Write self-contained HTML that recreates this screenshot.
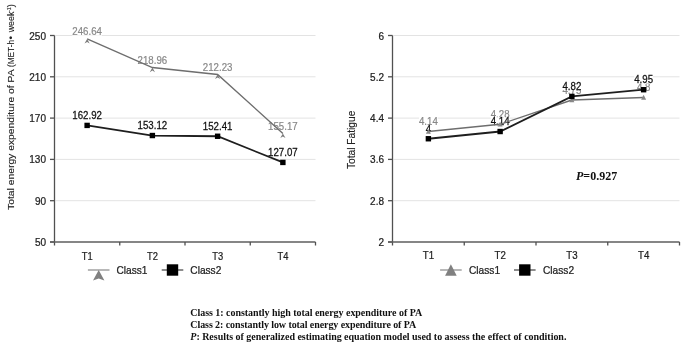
<!DOCTYPE html>
<html><head><meta charset="utf-8"><style>
html,body{margin:0;padding:0;background:#fff;}
svg{display:block}
text{font-family:"Liberation Sans",sans-serif;}
.tk{font-size:11px;fill:#222;stroke:#222;stroke-width:0.25px;}
.lb{font-size:10.2px;fill:#111;stroke:#111;stroke-width:0.25px;}
.lg{font-size:10.2px;fill:#888;stroke:#888;stroke-width:0.2px;}
.yt{font-size:10px;fill:#222;stroke:#222;stroke-width:0.12px;}
.lt{font-size:11px;fill:#222;stroke:#222;stroke-width:0.25px;}
.pv{font-family:"Liberation Serif",serif;font-weight:bold;font-size:12px;fill:#111;}
.cp{font-family:"Liberation Serif",serif;font-weight:bold;font-size:10px;fill:#111;}
</style></head><body>
<svg width="685" height="350" viewBox="0 0 685 350" style="filter:grayscale(1)">
<rect width="685" height="350" fill="#fff"/>
<line x1="55.5" y1="200.7" x2="315.5" y2="200.7" stroke="#e3e3e3" stroke-width="1"/>
<line x1="55.5" y1="159.4" x2="315.5" y2="159.4" stroke="#e3e3e3" stroke-width="1"/>
<line x1="55.5" y1="118.1" x2="315.5" y2="118.1" stroke="#e3e3e3" stroke-width="1"/>
<line x1="55.5" y1="76.80000000000001" x2="315.5" y2="76.80000000000001" stroke="#e3e3e3" stroke-width="1"/>
<line x1="55.5" y1="35.5" x2="315.5" y2="35.5" stroke="#e3e3e3" stroke-width="1"/>
<line x1="54.5" y1="35.5" x2="54.5" y2="245.5" stroke="#505050" stroke-width="1.3"/>
<line x1="50.0" y1="242.0" x2="54.5" y2="242.0" stroke="#505050" stroke-width="1.3"/>
<line x1="50.0" y1="200.7" x2="54.5" y2="200.7" stroke="#505050" stroke-width="1.3"/>
<line x1="50.0" y1="159.4" x2="54.5" y2="159.4" stroke="#505050" stroke-width="1.3"/>
<line x1="50.0" y1="118.1" x2="54.5" y2="118.1" stroke="#505050" stroke-width="1.3"/>
<line x1="50.0" y1="76.80000000000001" x2="54.5" y2="76.80000000000001" stroke="#505050" stroke-width="1.3"/>
<line x1="50.0" y1="35.5" x2="54.5" y2="35.5" stroke="#505050" stroke-width="1.3"/>
<line x1="50.0" y1="242" x2="315.5" y2="242" stroke="#5e5e5e" stroke-width="1.5"/>
<line x1="119.75" y1="242" x2="119.75" y2="245.5" stroke="#505050" stroke-width="1.3"/>
<line x1="185.0" y1="242" x2="185.0" y2="245.5" stroke="#505050" stroke-width="1.3"/>
<line x1="250.25" y1="242" x2="250.25" y2="245.5" stroke="#505050" stroke-width="1.3"/>
<line x1="315.5" y1="242" x2="315.5" y2="245.5" stroke="#505050" stroke-width="1.3"/>
<text transform="translate(46.00,246.00) scale(0.91,1)" text-anchor="end" class="tk">50</text>
<text transform="translate(46.00,204.70) scale(0.91,1)" text-anchor="end" class="tk">90</text>
<text transform="translate(46.00,163.40) scale(0.91,1)" text-anchor="end" class="tk">130</text>
<text transform="translate(46.00,122.10) scale(0.91,1)" text-anchor="end" class="tk">170</text>
<text transform="translate(46.00,80.80) scale(0.91,1)" text-anchor="end" class="tk">210</text>
<text transform="translate(46.00,39.50) scale(0.91,1)" text-anchor="end" class="tk">250</text>
<text transform="translate(87.12,259.60) scale(0.85,1)" text-anchor="middle" class="tk">T1</text>
<text transform="translate(152.38,259.60) scale(0.85,1)" text-anchor="middle" class="tk">T2</text>
<text transform="translate(217.62,259.60) scale(0.85,1)" text-anchor="middle" class="tk">T3</text>
<text transform="translate(282.88,259.60) scale(0.85,1)" text-anchor="middle" class="tk">T4</text>
<line x1="393.5" y1="200.70000000000002" x2="679.5" y2="200.70000000000002" stroke="#e3e3e3" stroke-width="1"/>
<line x1="393.5" y1="159.39999999999998" x2="679.5" y2="159.39999999999998" stroke="#e3e3e3" stroke-width="1"/>
<line x1="393.5" y1="118.09999999999998" x2="679.5" y2="118.09999999999998" stroke="#e3e3e3" stroke-width="1"/>
<line x1="393.5" y1="76.79999999999998" x2="679.5" y2="76.79999999999998" stroke="#e3e3e3" stroke-width="1"/>
<line x1="393.5" y1="35.5" x2="679.5" y2="35.5" stroke="#e3e3e3" stroke-width="1"/>
<line x1="392.5" y1="35.5" x2="392.5" y2="245.5" stroke="#505050" stroke-width="1.3"/>
<line x1="388.0" y1="242.0" x2="392.5" y2="242.0" stroke="#505050" stroke-width="1.3"/>
<line x1="388.0" y1="200.70000000000002" x2="392.5" y2="200.70000000000002" stroke="#505050" stroke-width="1.3"/>
<line x1="388.0" y1="159.39999999999998" x2="392.5" y2="159.39999999999998" stroke="#505050" stroke-width="1.3"/>
<line x1="388.0" y1="118.09999999999998" x2="392.5" y2="118.09999999999998" stroke="#505050" stroke-width="1.3"/>
<line x1="388.0" y1="76.79999999999998" x2="392.5" y2="76.79999999999998" stroke="#505050" stroke-width="1.3"/>
<line x1="388.0" y1="35.5" x2="392.5" y2="35.5" stroke="#505050" stroke-width="1.3"/>
<line x1="388.0" y1="242" x2="679.5" y2="242" stroke="#5e5e5e" stroke-width="1.5"/>
<line x1="464.25" y1="242" x2="464.25" y2="245.5" stroke="#505050" stroke-width="1.3"/>
<line x1="536.0" y1="242" x2="536.0" y2="245.5" stroke="#505050" stroke-width="1.3"/>
<line x1="607.75" y1="242" x2="607.75" y2="245.5" stroke="#505050" stroke-width="1.3"/>
<line x1="679.5" y1="242" x2="679.5" y2="245.5" stroke="#505050" stroke-width="1.3"/>
<text transform="translate(384.00,246.00) scale(0.91,1)" text-anchor="end" class="tk">2</text>
<text transform="translate(384.00,204.70) scale(0.91,1)" text-anchor="end" class="tk">2.8</text>
<text transform="translate(384.00,163.40) scale(0.91,1)" text-anchor="end" class="tk">3.6</text>
<text transform="translate(384.00,122.10) scale(0.91,1)" text-anchor="end" class="tk">4.4</text>
<text transform="translate(384.00,80.80) scale(0.91,1)" text-anchor="end" class="tk">5.2</text>
<text transform="translate(384.00,39.50) scale(0.91,1)" text-anchor="end" class="tk">6</text>
<text transform="translate(428.38,258.60) scale(0.88,1)" text-anchor="middle" class="tk">T1</text>
<text transform="translate(500.12,258.60) scale(0.88,1)" text-anchor="middle" class="tk">T2</text>
<text transform="translate(571.88,258.60) scale(0.88,1)" text-anchor="middle" class="tk">T3</text>
<text transform="translate(643.62,258.60) scale(0.88,1)" text-anchor="middle" class="tk">T4</text>
<rect x="72.31" y="27.57" width="29.63" height="8.1" fill="#fff"/>
<text transform="translate(87.12,35.47) scale(0.95,1)" text-anchor="middle" class="lg">246.64</text>
<rect x="137.56" y="56.15" width="29.63" height="8.1" fill="#fff"/>
<text transform="translate(152.38,64.05) scale(0.95,1)" text-anchor="middle" class="lg">218.96</text>
<rect x="202.81" y="63.10" width="29.63" height="8.1" fill="#fff"/>
<text transform="translate(217.62,71.00) scale(0.95,1)" text-anchor="middle" class="lg">212.23</text>
<rect x="268.06" y="122.01" width="29.63" height="8.1" fill="#fff"/>
<text transform="translate(282.88,129.91) scale(0.95,1)" text-anchor="middle" class="lg">155.17</text>
<rect x="72.31" y="110.81" width="29.63" height="8.1" fill="#fff"/>
<text transform="translate(87.12,118.71) scale(0.95,1)" text-anchor="middle" class="lb">162.92</text>
<rect x="137.56" y="120.93" width="29.63" height="8.1" fill="#fff"/>
<text transform="translate(152.38,128.83) scale(0.95,1)" text-anchor="middle" class="lb">153.12</text>
<rect x="202.81" y="121.66" width="29.63" height="8.1" fill="#fff"/>
<text transform="translate(217.62,129.56) scale(0.95,1)" text-anchor="middle" class="lb">152.41</text>
<rect x="268.06" y="147.83" width="29.63" height="8.1" fill="#fff"/>
<text transform="translate(282.88,155.73) scale(0.95,1)" text-anchor="middle" class="lb">127.07</text>
<rect x="418.95" y="117.12" width="18.86" height="8.1" fill="#fff"/>
<text transform="translate(428.38,125.02) scale(0.95,1)" text-anchor="middle" class="lg">4.14</text>
<rect x="490.70" y="109.89" width="18.86" height="8.1" fill="#fff"/>
<text transform="translate(500.12,117.79) scale(0.95,1)" text-anchor="middle" class="lg">4.28</text>
<rect x="562.45" y="85.63" width="18.86" height="8.1" fill="#fff"/>
<text transform="translate(571.88,93.53) scale(0.95,1)" text-anchor="middle" class="lg">4.75</text>
<rect x="636.89" y="83.05" width="13.47" height="8.1" fill="#fff"/>
<text transform="translate(643.62,90.95) scale(0.95,1)" text-anchor="middle" class="lg">4.8</text>
<rect x="425.68" y="125.05" width="5.39" height="8.1" fill="#fff"/>
<text transform="translate(428.38,132.95) scale(0.95,1)" text-anchor="middle" class="lb">4</text>
<rect x="490.70" y="117.22" width="18.86" height="8.1" fill="#fff"/>
<text transform="translate(500.12,125.12) scale(0.95,1)" text-anchor="middle" class="lb">4.14</text>
<rect x="562.45" y="82.12" width="18.86" height="8.1" fill="#fff"/>
<text transform="translate(571.88,90.02) scale(0.95,1)" text-anchor="middle" class="lb">4.82</text>
<rect x="634.20" y="75.41" width="18.86" height="8.1" fill="#fff"/>
<text transform="translate(643.62,83.31) scale(0.95,1)" text-anchor="middle" class="lb">4.95</text>
<path d="M87.12,38.97 L152.38,67.55 L217.62,74.50 L282.88,133.41" fill="none" stroke="#6e6e6e" stroke-width="1.4"/>
<path d="M87.12,38.97 l2.6,4.6 l-2.6,-1.6 l-2.6,1.6 z" fill="#7a7a7a"/>
<path d="M152.38,67.55 l2.6,4.6 l-2.6,-1.6 l-2.6,1.6 z" fill="#7a7a7a"/>
<path d="M217.62,74.50 l2.6,4.6 l-2.6,-1.6 l-2.6,1.6 z" fill="#7a7a7a"/>
<path d="M282.88,133.41 l2.6,4.6 l-2.6,-1.6 l-2.6,1.6 z" fill="#7a7a7a"/>
<path d="M87.12,125.41 L152.38,135.53 L217.62,136.26 L282.88,162.43" fill="none" stroke="#1e1e1e" stroke-width="1.8"/>
<rect x="84.42" y="122.71" width="5.4" height="5.4" fill="#000"/>
<rect x="149.68" y="132.83" width="5.4" height="5.4" fill="#000"/>
<rect x="214.93" y="133.56" width="5.4" height="5.4" fill="#000"/>
<rect x="280.18" y="159.73" width="5.4" height="5.4" fill="#000"/>
<path d="M428.38,131.52 L500.12,124.29 L571.88,100.03 L643.62,97.45" fill="none" stroke="#6e6e6e" stroke-width="1.4"/>
<path d="M428.38,128.92 l2.5,4.8 l-5,0 z" fill="#888"/>
<path d="M500.12,121.69 l2.5,4.8 l-5,0 z" fill="#888"/>
<path d="M571.88,97.43 l2.5,4.8 l-5,0 z" fill="#888"/>
<path d="M643.62,94.85 l2.5,4.8 l-5,0 z" fill="#888"/>
<path d="M428.38,138.75 L500.12,131.52 L571.88,96.42 L643.62,89.71" fill="none" stroke="#1e1e1e" stroke-width="1.8"/>
<rect x="425.68" y="136.05" width="5.4" height="5.4" fill="#000"/>
<rect x="497.43" y="128.82" width="5.4" height="5.4" fill="#000"/>
<rect x="569.17" y="93.72" width="5.4" height="5.4" fill="#000"/>
<rect x="640.92" y="87.01" width="5.4" height="5.4" fill="#000"/>
<text transform="translate(14,210) scale(0.95,1) rotate(-90)" class="yt" style="font-size:10.35px">Total energy expenditure of PA </text>
<text transform="translate(14,67.0) scale(0.95,1) rotate(-90)" class="yt" style="font-size:10.35px" textLength="27" lengthAdjust="spacingAndGlyphs">(MET-h</text>
<text transform="translate(14,39.4) scale(0.95,1) rotate(-90)" class="yt" style="font-size:10.35px">•</text>
<text transform="translate(14,32.3) scale(0.95,1) rotate(-90)" class="yt" style="font-size:10.35px" textLength="20.6" lengthAdjust="spacingAndGlyphs">week</text>
<text transform="translate(10.8,12.0) rotate(-90)" class="yt" style="font-size:5.5px">-1</text>
<text transform="translate(14,7.6) scale(0.95,1) rotate(-90)" class="yt" style="font-size:10.35px">)</text>
<text transform="translate(354.9,169) rotate(-90)" class="yt" style="font-size:10.2px">Total Fatigue</text>
<line x1="87.9" y1="270" x2="109.5" y2="270" stroke="#a6a6a6" stroke-width="1.6"/>
<path d="M98.7,270 L104.4,280.6 L98.7,278.5 L93.0,280.6 z" fill="#808080"/>
<text transform="translate(116.40,274.30) scale(0.925,1)" text-anchor="start" class="lt">Class1</text>
<line x1="161.7" y1="270" x2="183.29999999999998" y2="270" stroke="#707070" stroke-width="1.6"/>
<rect x="166.8" y="264.3" width="11.4" height="11.4" fill="#000"/>
<text transform="translate(190.30,274.30) scale(0.925,1)" text-anchor="start" class="lt">Class2</text>
<line x1="440.1" y1="270" x2="461.70000000000005" y2="270" stroke="#a6a6a6" stroke-width="1.6"/>
<path d="M450.90000000000003,264.2 L456.70000000000005,275.7 L445.1,275.7 z" fill="#808080"/>
<text transform="translate(469.00,274.30) scale(0.925,1)" text-anchor="start" class="lt">Class1</text>
<line x1="514.0" y1="270" x2="535.6" y2="270" stroke="#707070" stroke-width="1.6"/>
<rect x="519.0999999999999" y="264.3" width="11.4" height="11.4" fill="#000"/>
<text transform="translate(543.00,274.30) scale(0.925,1)" text-anchor="start" class="lt">Class2</text>
<text x="576" y="179.9" class="pv"><tspan font-style="italic">P</tspan>=0.927</text>
<text x="190.3" y="315.7" class="cp" textLength="231.9" lengthAdjust="spacing">Class 1: constantly high total energy expenditure of PA</text>
<text x="190.3" y="327.9" class="cp" textLength="226.0" lengthAdjust="spacing">Class 2: constantly low total energy expenditure of PA</text>
<text x="190.3" y="340.1" class="cp" textLength="376.1" lengthAdjust="spacing"><tspan font-style="italic">P</tspan>: Results of generalized estimating equation model used to assess the effect of condition.</text>
</svg>
</body></html>
